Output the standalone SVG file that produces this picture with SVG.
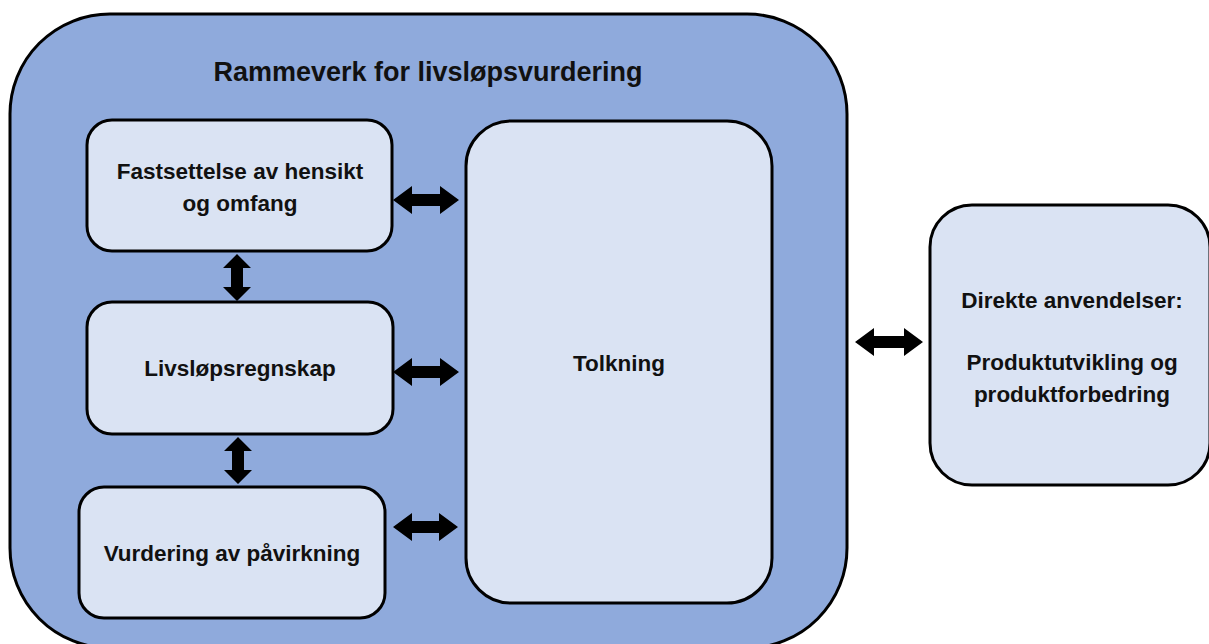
<svg xmlns="http://www.w3.org/2000/svg" width="1209" height="644" viewBox="0 0 1209 644">
<defs>
<style>
.outer{fill:#8FAADC;stroke:#000;stroke-width:3}
.box{fill:#DAE3F3;stroke:#000;stroke-width:3}
.t{font-family:"Liberation Sans",Arial,sans-serif;font-weight:bold;fill:#111;text-anchor:middle}
.lbl{font-size:22.5px}
.title{font-size:27px}
.arr{fill:#000}
</style>
</defs>
<rect width="1209" height="644" fill="#fff"/>
<g id="frame">
<rect class="outer" x="10" y="14" width="837" height="634" rx="100" ry="100"/>
<text class="t title" x="428" y="81">Rammeverk for livsløpsvurdering</text>
</g>
<g id="fastsettelse">
<rect class="box" x="87" y="120" width="305" height="131" rx="25" ry="25"/>
<text class="t lbl" x="240" y="179">Fastsettelse av hensikt</text>
<text class="t lbl" x="240" y="211">og omfang</text>
</g>
<g id="livslopsregnskap">
<rect class="box" x="87" y="302" width="306" height="132" rx="25" ry="25"/>
<text class="t lbl" x="240" y="376">Livsløpsregnskap</text>
</g>
<g id="vurdering">
<rect class="box" x="79" y="487" width="306" height="131" rx="25" ry="25"/>
<text class="t lbl" x="232" y="561">Vurdering av påvirkning</text>
</g>
<g id="tolkning">
<rect class="box" x="466" y="121" width="306" height="482" rx="45" ry="45"/>
<text class="t lbl" x="619" y="371">Tolkning</text>
</g>
<g id="anvendelser">
<rect class="box" x="930" y="205" width="280" height="280" rx="42" ry="42"/>
<text class="t lbl" x="1072" y="308">Direkte anvendelser:</text>
<text class="t lbl" x="1072" y="370">Produktutvikling og</text>
<text class="t lbl" x="1072" y="402">produktforbedring</text>
</g>
<g id="connectors">
<polygon class="arr" points="393,200 412,186 412,194 440,194 440,186 459,200 440,214 440,206 412,206 412,214"/>
<polygon class="arr" points="393,372 412,358 412,366 440,366 440,358 459,372 440,386 440,378 412,378 412,386"/>
<polygon class="arr" points="393,527 412,513 412,521 439,521 439,513 458,527 439,541 439,533 412,533 412,541"/>
<polygon class="arr" points="855,342 874,328 874,336 904,336 904,328 923,342 904,356 904,348 874,348 874,356"/>
<polygon class="arr" points="237,254 251,268 243,268 243,287 251,287 237,301 223,287 231,287 231,268 223,268"/>
<polygon class="arr" points="238,437 252,451 244,451 244,470 252,470 238,484 224,470 232,470 232,451 224,451"/>
</g>
</svg>
